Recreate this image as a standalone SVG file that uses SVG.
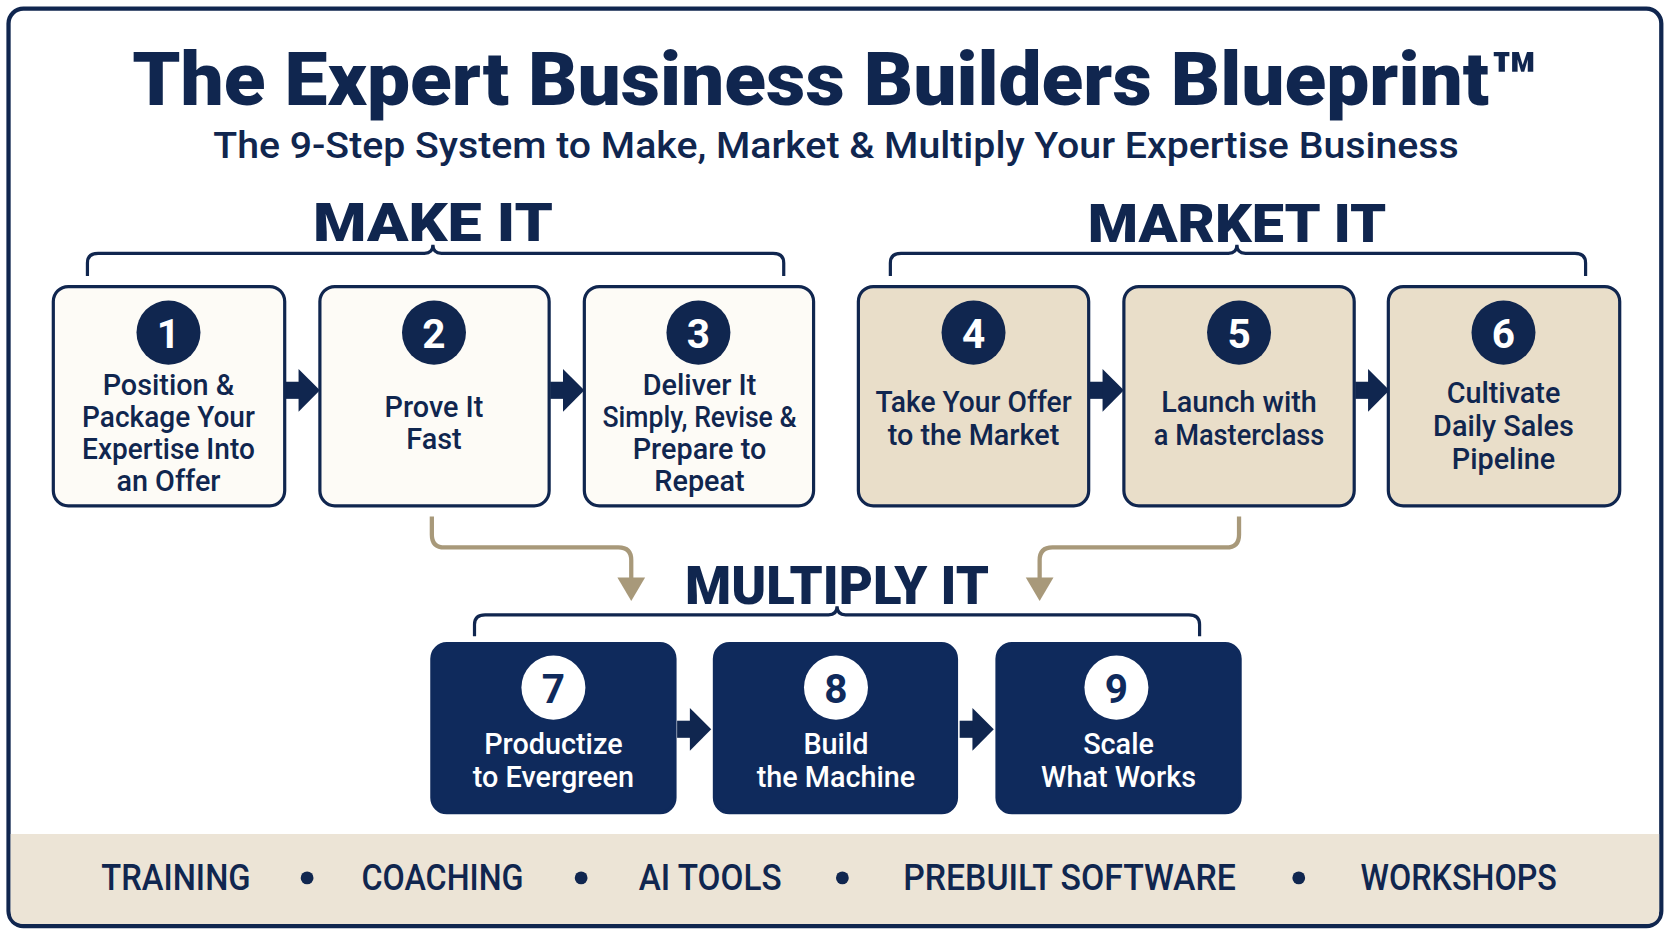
<svg xmlns="http://www.w3.org/2000/svg" width="1672" height="941" viewBox="0 0 1672 941">
<style>
text{font-family:Roboto,"Liberation Sans",sans-serif;text-anchor:middle;fill:#10264f}
.h{font-weight:900;font-size:50px}
.lt{fill:#fdfbf6;stroke:#10264f;stroke-width:3}
.tn{fill:#e9dec9;stroke:#10264f;stroke-width:3}
.dk{fill:#0f2a5c;stroke:#0f2a5c;stroke-width:3}
.lbl{font-size:27px;font-weight:500}
.wl{font-size:27px;font-weight:500;fill:#fff}
.num{font-size:38px;font-weight:700;fill:#fff}
.numd{font-size:38px;font-weight:700;fill:#0f2a5c}
.br{fill:none;stroke:#10264f;stroke-width:3}
.ba{fill:none;stroke:#a8997a;stroke-width:4}
.ft{font-size:34px;font-weight:500}
</style>
<defs>
<g id="arr"><rect x="0" y="-8" width="14" height="16" fill="#10264f"/><polygon points="12,-20 32,0 12,20" fill="#10264f"/></g>
</defs>
<rect width="1672" height="941" fill="#fff"/>
<g transform="scale(1.0663 1.0693)">
<rect x="8" y="8" width="1550" height="858" rx="14" fill="#fff" stroke="#10264f" stroke-width="4"/>
<path d="M10,780 H1556 V852 Q1556,864 1544,864 H22 Q10,864 10,852 Z" fill="#ece4d6"/>
<text x="783" y="98" font-size="70" font-weight="900" textLength="1318" lengthAdjust="spacingAndGlyphs">The Expert Business Builders Blueprint™</text>
<text x="784" y="148" font-size="34" font-weight="500" textLength="1168" lengthAdjust="spacingAndGlyphs">The 9-Step System to Make, Market &amp; Multiply Your Expertise Business</text>
<text class="h" x="406" y="225" textLength="225" lengthAdjust="spacingAndGlyphs">MAKE IT</text>
<text class="h" x="1160" y="226" textLength="280" lengthAdjust="spacingAndGlyphs">MARKET IT</text>
<text class="h" x="785" y="565" textLength="285" lengthAdjust="spacingAndGlyphs">MULTIPLY IT</text>
<g id="connectors">
<path class="br" d="M82,258 V246 Q82,237 92,237 H398 Q406,237 406,229 Q406,237 414,237 H725 Q735,237 735,246 V258"/>
<path class="br" d="M835,258 V246 Q835,237 845,237 H1152 Q1160,237 1160,229 Q1160,237 1168,237 H1477 Q1487,237 1487,246 V258"/>
<path class="br" d="M445,595 V584 Q445,575 455,575 H777 Q785,575 785,567 Q785,575 793,575 H1115 Q1125,575 1125,584 V595"/>
<use href="#arr" x="268" y="365"/>
<use href="#arr" x="516" y="365"/>
<use href="#arr" x="1022" y="365"/>
<use href="#arr" x="1271" y="365"/>
<use href="#arr" x="635" y="682"/>
<use href="#arr" x="900" y="682"/>
<path class="ba" d="M405,483 V500 Q405,512 417,512 H580 Q592,512 592,524 V545"/>
<polygon points="579,540 605,540 592,562" fill="#a8997a"/>
<path class="ba" d="M1162,483 V500 Q1162,512 1150,512 H987 Q975,512 975,524 V545"/>
<polygon points="962,540 988,540 975,562" fill="#a8997a"/>
</g>
<g id="n1"><rect class="lt" x="50" y="268" width="217" height="205" rx="14"/><circle cx="158" cy="311" r="30" fill="#10264f"/><text class="num" x="158" y="325">1</text>
<text class="lbl" x="158" y="369">Position &amp;</text><text class="lbl" x="158" y="399" textLength="162" lengthAdjust="spacingAndGlyphs">Package Your</text><text class="lbl" x="158" y="429" textLength="162" lengthAdjust="spacingAndGlyphs">Expertise Into</text><text class="lbl" x="158" y="459">an Offer</text></g>
<g id="n2"><rect class="lt" x="300" y="268" width="215" height="205" rx="14"/><circle cx="407" cy="311" r="30" fill="#10264f"/><text class="num" x="407" y="325">2</text>
<text class="lbl" x="407" y="390">Prove It</text><text class="lbl" x="407" y="420">Fast</text></g>
<g id="n3"><rect class="lt" x="548" y="268" width="215" height="205" rx="14"/><circle cx="655" cy="311" r="30" fill="#10264f"/><text class="num" x="655" y="325">3</text>
<text class="lbl" x="656" y="369">Deliver It</text><text class="lbl" x="656" y="399" textLength="182" lengthAdjust="spacingAndGlyphs">Simply, Revise &amp;</text><text class="lbl" x="656" y="429">Prepare to</text><text class="lbl" x="656" y="459">Repeat</text></g>
<g id="n4"><rect class="tn" x="805" y="268" width="216" height="205" rx="14"/><circle cx="913" cy="311" r="30" fill="#10264f"/><text class="num" x="913" y="325">4</text>
<text class="lbl" x="913" y="385" textLength="184" lengthAdjust="spacingAndGlyphs">Take Your Offer</text><text class="lbl" x="913" y="416">to the Market</text></g>
<g id="n5"><rect class="tn" x="1054" y="268" width="216" height="205" rx="14"/><circle cx="1162" cy="311" r="30" fill="#10264f"/><text class="num" x="1162" y="325">5</text>
<text class="lbl" x="1162" y="385">Launch with</text><text class="lbl" x="1162" y="416" textLength="160" lengthAdjust="spacingAndGlyphs">a Masterclass</text></g>
<g id="n6"><rect class="tn" x="1302" y="268" width="217" height="205" rx="14"/><circle cx="1410" cy="311" r="30" fill="#10264f"/><text class="num" x="1410" y="325">6</text>
<text class="lbl" x="1410" y="377">Cultivate</text><text class="lbl" x="1410" y="408">Daily Sales</text><text class="lbl" x="1410" y="439">Pipeline</text></g>
<g id="n7"><rect class="dk" x="405" y="602" width="228" height="158" rx="14"/><circle cx="519" cy="643" r="30" fill="#fff"/><text class="numd" x="519" y="657">7</text>
<text class="wl" x="519" y="705">Productize</text><text class="wl" x="519" y="736">to Evergreen</text></g>
<g id="n8"><rect class="dk" x="670" y="602" width="227" height="158" rx="14"/><circle cx="784" cy="643" r="30" fill="#fff"/><text class="numd" x="784" y="657">8</text>
<text class="wl" x="784" y="705">Build</text><text class="wl" x="784" y="736">the Machine</text></g>
<g id="n9"><rect class="dk" x="935" y="602" width="228" height="158" rx="14"/><circle cx="1047" cy="643" r="30" fill="#fff"/><text class="numd" x="1047" y="657">9</text>
<text class="wl" x="1049" y="705">Scale</text><text class="wl" x="1049" y="736">What Works</text></g>
<g id="footer">
<text class="ft" x="165" y="832" textLength="140" lengthAdjust="spacingAndGlyphs">TRAINING</text>
<circle cx="288" cy="821" r="6" fill="#10264f"/>
<text class="ft" x="415" y="832" textLength="152" lengthAdjust="spacingAndGlyphs">COACHING</text>
<circle cx="545" cy="821" r="6" fill="#10264f"/>
<text class="ft" x="666" y="832" textLength="134" lengthAdjust="spacingAndGlyphs">AI TOOLS</text>
<circle cx="790" cy="821" r="6" fill="#10264f"/>
<text class="ft" x="1003" y="832" textLength="312" lengthAdjust="spacingAndGlyphs">PREBUILT SOFTWARE</text>
<circle cx="1218" cy="821" r="6" fill="#10264f"/>
<text class="ft" x="1368" y="832" textLength="184" lengthAdjust="spacingAndGlyphs">WORKSHOPS</text>
</g>
</g>
</svg>
